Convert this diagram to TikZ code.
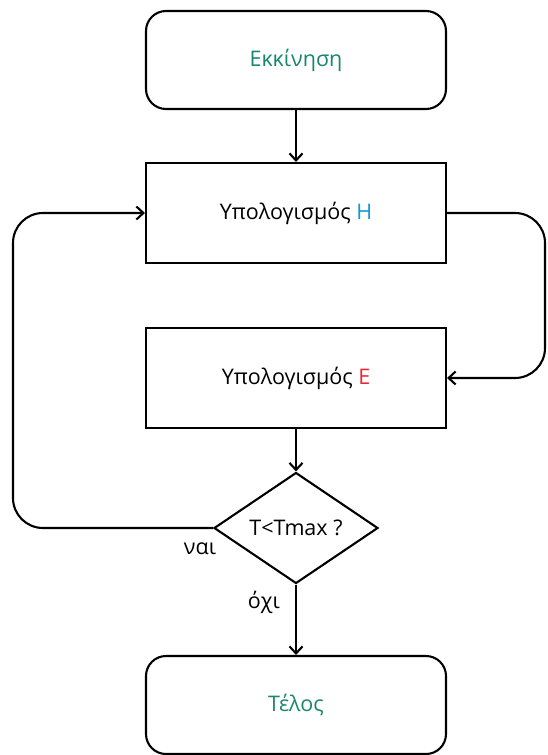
\documentclass[tikz,border=0pt]{standalone}
\usepackage{fontspec}
\setmainfont{Open Sans}
\usepackage{xcolor}
\usetikzlibrary{positioning, shapes.geometric, arrows.meta}

\definecolor{termgreen}{RGB}{24,135,110}
\definecolor{hblue}{RGB}{20,150,215}
\definecolor{ered}{RGB}{235,40,55}

\tikzset{
    terminal/.style={draw, line width=2.1pt, rounded corners=20pt, minimum width=300pt, minimum height=98pt, text=termgreen},
    process/.style={draw, line width=2.1pt, minimum width=300pt, minimum height=100pt},
    decision/.style={draw, diamond, line width=2.1pt, aspect=1.48, inner sep=0pt, minimum width=164pt, minimum height=111pt},
    flowline/.style={line width=2.1pt, rounded corners=30pt},
    answer/.style={inner sep=0pt}
}

\begin{document}
\begin{tikzpicture}[x=1pt, y=-1pt, font=\fontsize{21.5}{26}\selectfont, >={Straight Barb[length=7pt,width=13pt]}]
        \useasboundingbox (0,0) rectangle (547,755);

        % boxes
        \node[terminal] (start) at (296,60) {Εκκίνηση};
        \node[process] (calcH) at (296,213) {Υπολογισμός \textcolor{hblue}{H}};
        \node[process] (calcE) at (296,378) {Υπολογισμός \textcolor{ered}{E}};
        \node[decision] (check) at (296,528) {T<Tmax ?};
        \node[terminal] (stop) at (296,705) {Τέλος};

        % loop corners
        \coordinate (rloop) at (545,300);
        \coordinate (lloop) at (13,400);

        % straight arrows
        \draw[flowline,->] (start) -- (calcH);
        \draw[flowline,->] (calcH.east) -| (rloop) |- (calcE.east);
        \draw[flowline,->] (calcE) -- (check);
        \draw[flowline,->] (check.west) -| (lloop) |- (calcH.west);
        \draw[flowline,->] (check) -- (stop);

        % answers
        \node[answer] (yes) at (200,549) {ναι};
        \node[answer] (no) at (264,602) {όχι};
    \end{tikzpicture}
\end{document}
